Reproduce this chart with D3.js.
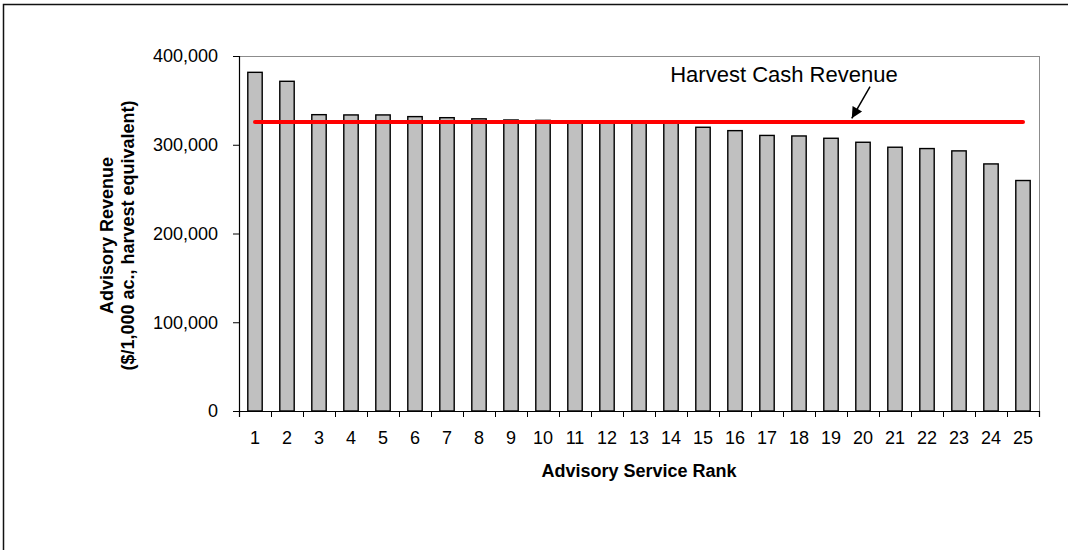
<!DOCTYPE html>
<html>
<head>
<meta charset="utf-8">
<script src="https://cdn.jsdelivr.net/npm/d3@7"></script>
<style>
  body { margin: 0; background: #fff; overflow: hidden; }
  svg { display: block; font-family: Arial, "Liberation Sans", sans-serif; }
</style>
</head>
<body>
<div id="chart"></div>
<script>
// data
var ranks = d3.range(1, 26).map(String);
var revenue = [381600, 371500, 333900, 333600, 333600, 331700, 330500, 329200, 327900, 327500,
               326500, 326000, 325600, 325200, 319700, 315900, 310500, 309900, 307300, 302800,
               297200, 295700, 293100, 278400, 259700];
var cashRevenue = 325500;
var yTicks = [0, 100000, 200000, 300000, 400000];
var cashLabel = "Harvest Cash Revenue";

var svgWidth = 1068, svgHeight = 550;
var margin = { top: 56, left: 239 };
var chartWidth = 800, chartHeight = 355;

var svg = d3.select("#chart").append("svg")
  .attr("width", svgWidth)
  .attr("height", svgHeight);

// outer frame: only top and left edges show in the original
svg.append("path")
  .attr("d", "M3.5," + svgHeight + " L3.5,4.5 L" + svgWidth + ",4.5")
  .attr("fill", "none")
  .attr("stroke", "#111")
  .attr("stroke-width", 1.5);

var chartGroup = svg.append("g")
  .attr("transform", "translate(" + margin.left + "," + margin.top + ")");

var x = d3.scaleBand().domain(ranks).range([0, chartWidth]).padding(0);
var xl = d3.scaleLinear().domain([0, ranks.length]).range([0, chartWidth]);
var y = d3.scaleLinear().domain([0, 400000]).range([chartHeight, 0]);

// plot area border
chartGroup.append("rect")
  .attr("x", 0.5).attr("y", 0.5)
  .attr("width", chartWidth).attr("height", chartHeight)
  .attr("fill", "none")
  .attr("stroke", "#8c8c8c")
  .attr("stroke-width", 1);

// bars
var barW = x.bandwidth() * 0.45;
chartGroup.selectAll(".bar")
  .data(revenue)
  .enter().append("rect")
  .attr("class", "bar")
  .attr("x", function(d, i) { return x(ranks[i]) + (x.bandwidth() - barW) / 2; })
  .attr("y", function(d) { return y(d); })
  .attr("width", barW)
  .attr("height", function(d) { return chartHeight - y(d); })
  .attr("fill", "#c0c0c0")
  .attr("stroke", "#000")
  .attr("stroke-width", 1.4);

// harvest cash revenue line
chartGroup.append("line")
  .attr("x1", x(ranks[0]) + x.bandwidth() / 2)
  .attr("x2", x(ranks[ranks.length - 1]) + x.bandwidth() / 2)
  .attr("y1", y(cashRevenue))
  .attr("y2", y(cashRevenue))
  .attr("stroke", "#ff0000")
  .attr("stroke-width", 4)
  .attr("stroke-linecap", "round");

// y axis
var yAxis = d3.axisLeft(y)
  .tickValues(yTicks)
  .tickSize(6)
  .tickPadding(15)
  .tickFormat(d3.format(","));
var yg = chartGroup.append("g").call(yAxis);
yg.select(".domain").attr("stroke", "#000").attr("stroke-width", 1.2);
yg.selectAll(".tick line").attr("stroke", "#000");
yg.selectAll("text").attr("font-size", 18).attr("fill", "#000")
  .style("font-family", "Arial, 'Liberation Sans', sans-serif");

// x axis: tick marks at category boundaries, labels centred
var xTickAxis = d3.axisBottom(xl)
  .tickValues(d3.range(0, ranks.length + 1))
  .tickSize(6)
  .tickFormat("");
var xtg = chartGroup.append("g")
  .attr("transform", "translate(0," + chartHeight + ")")
  .call(xTickAxis);
xtg.select(".domain").attr("stroke", "#000").attr("stroke-width", 1.2);
xtg.selectAll(".tick line").attr("stroke", "#000");

var xLabelAxis = d3.axisBottom(x).tickSize(0).tickPadding(20);
var xlg = chartGroup.append("g")
  .attr("transform", "translate(0," + chartHeight + ")")
  .call(xLabelAxis);
xlg.select(".domain").remove();
xlg.selectAll("text").attr("font-size", 18).attr("fill", "#000")
  .style("font-family", "Arial, 'Liberation Sans', sans-serif");

// axis titles
chartGroup.append("text")
  .attr("x", chartWidth / 2)
  .attr("y", 421)
  .attr("text-anchor", "middle")
  .attr("font-size", 18)
  .attr("font-weight", "bold")
  .text("Advisory Service Rank");

var yTitle = chartGroup.append("text")
  .attr("transform", "translate(-126," + (chartHeight / 2 + 2) + ") rotate(-90)")
  .attr("text-anchor", "middle")
  .attr("font-size", 18)
  .attr("font-weight", "bold");
yTitle.append("tspan").attr("x", 0).attr("dy", 0).text("Advisory Revenue");
yTitle.append("tspan").attr("x", 0).attr("dy", 21).text("($/1,000 ac., harvest equivalent)");

// annotation
svg.append("defs").append("marker")
  .attr("id", "arrow")
  .attr("viewBox", "0 0 10 10")
  .attr("refX", 10).attr("refY", 5)
  .attr("markerUnits", "userSpaceOnUse")
  .attr("orient", "auto")
  .attr("markerWidth", 15).attr("markerHeight", 11)
  .append("path")
  .attr("d", "M0,0 L10,5 L0,10 Z")
  .attr("fill", "#000");

chartGroup.append("text")
  .attr("x", xl(17.03))
  .attr("y", y(371000))
  .attr("text-anchor", "middle")
  .attr("font-size", 22)
  .attr("fill", "#000")
  .text(cashLabel);

chartGroup.append("line")
  .attr("x1", xl(19.72)).attr("y1", y(365400))
  .attr("x2", xl(19.15)).attr("y2", y(329800))
  .attr("stroke", "#000")
  .attr("stroke-width", 1.5)
  .attr("marker-end", "url(#arrow)");
</script>
</body>
</html>
